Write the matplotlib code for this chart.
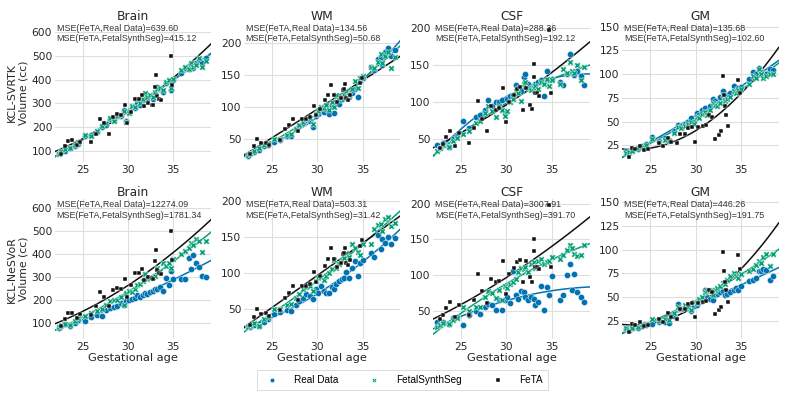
import numpy as np
import matplotlib
matplotlib.use("Agg")
import matplotlib.pyplot as plt

# gestational ages
kcl_age = [22.3, 22.6, 23.0, 23.6, 24.1, 24.5, 25.2, 25.9, 26.6, 27.1, 27.6, 28.0, 28.4, 28.8, 29.2,
           29.5, 29.8, 30.1, 30.4, 30.7, 31.0, 31.3, 31.6, 31.9, 32.1, 32.4, 32.7, 33.0, 33.2, 33.5,
           33.8, 34.2, 34.5, 34.7, 35.0, 35.9, 36.3, 36.7, 37.0, 37.2, 37.5, 37.8, 38.2, 38.6]
feta_age = [22.6, 23.0, 23.3, 23.8, 24.3, 24.7, 25.9, 26.4, 26.9, 27.3, 27.9, 28.3, 28.8, 29.2, 29.6,
            29.9, 30.3, 30.8, 31.2, 31.5, 31.8, 32.2, 32.6, 32.8, 33.0, 33.1, 33.2, 33.4, 33.6, 34.7, 34.9]

# FeTA volumes (same in both rows)
feta_brain = [86, 118, 142, 145, 123, 137, 135, 172, 235, 215, 172, 243, 253, 250, 291, 215, 264, 318,
              320, 334, 288, 300, 295, 292, 370, 419, 330, 317, 315, 500, 376]
feta_wm = [27, 38, 49, 43, 44, 40, 48, 65, 72, 81, 62, 81, 81, 84, 101, 87, 96, 110, 119, 134, 119,
           108, 114, 126, 127, 135, 114, 111, 118, 137, 145]
feta_csf = [39, 44, 54, 62, 41, 59, 45, 66, 102, 78, 61, 95, 90, 92, 120, 74, 101, 110, 118, 121, 90,
            120, 97, 91, 134, 151, 112, 112, 108, 198, 112]
feta_gm = [13, 22, 21, 24, 20, 21, 27, 24, 33, 29, 27, 37, 37, 43, 44, 29, 44, 45, 46, 57, 55, 32, 36,
           40, 98, 78, 66, 57, 45, 94, 80]

# KCL-SVRTK
svr_brain_real = [88, 95, 100, 112, 118, 130, 160, 165, 180, 200, 210, 235, 230, 250, 245, 270, 225, 265,
                  285, 280, 300, 295, 315, 340, 320, 330, 320, 345, 370, 360, 350, 385, 395, 355, 400,
                  430, 450, 445, 460, 450, 470, 485, 470, 490]
svr_brain_synth = [85, 98, 105, 110, 122, 135, 168, 160, 185, 205, 215, 240, 225, 245, 250, 268, 220, 260,
                   290, 285, 318, 300, 320, 345, 325, 335, 328, 350, 362, 365, 355, 390, 400, 365, 405,
                   440, 455, 445, 470, 455, 460, 490, 455, 480]
svr_wm_real = [23, 26, 30, 33, 38, 40, 45, 48, 55, 55, 65, 70, 75, 80, 78, 68, 85, 88, 95, 92, 97, 88,
               103, 90, 107, 105, 112, 118, 120, 115, 122, 128, 116, 140, 145, 162, 158, 175, 178, 165,
               185, 192, 180, 188]
svr_wm_synth = [24, 28, 31, 35, 40, 43, 50, 50, 56, 58, 66, 72, 76, 81, 82, 73, 88, 93, 100, 98, 103,
                95, 108, 100, 118, 110, 115, 120, 125, 118, 128, 140, 130, 145, 148, 162, 160, 170, 182,
                168, 180, 185, 160, 178]
svr_csf_real = [42, 38, 45, 40, 50, 55, 75, 65, 80, 83, 90, 103, 95, 100, 100, 103, 86, 105, 108, 110,
                123, 119, 115, 134, 138, 125, 120, 117, 125, 128, 130, 109, 142, 130, 132, 128, 123,
                138, 165, 140, 137, 142, 135, 124]
svr_csf_synth = [35, 38, 42, 40, 48, 52, 58, 62, 72, 75, 85, 95, 88, 80, 95, 90, 82, 88, 100, 105, 115,
                 112, 102, 125, 128, 120, 116, 120, 122, 118, 128, 125, 132, 122, 130, 125, 145, 140,
                 155, 142, 140, 150, 130, 148]
svr_gm_real = [19, 17, 20, 21, 24, 26, 34, 30, 33, 31, 40, 47, 45, 48, 50, 54, 50, 59, 57, 62, 64, 60,
               66, 74, 72, 69, 76, 82, 75, 78, 80, 88, 83, 85, 86, 95, 102, 100, 106, 102, 98, 100,
               105, 104]
svr_gm_synth = [17, 18, 19, 22, 23, 25, 32, 29, 31, 30, 38, 44, 43, 45, 48, 50, 48, 55, 54, 58, 60, 57,
                62, 70, 68, 66, 70, 78, 72, 74, 76, 82, 80, 83, 84, 90, 98, 96, 105, 100, 96, 98, 100,
                100]

# KCL-NeSVoR
nes_brain_real = [78, 88, 95, 85, 100, 112, 107, 125, 135, 129, 155, 165, 170, 176, 185, 180, 195, 200,
                  205, 210, 224, 215, 220, 231, 228, 235, 240, 249, 246, 255, 239, 297, 264, 326, 290,
                  293, 293, 385, 335, 396, 363, 345, 305, 300]
nes_brain_synth = [80, 90, 95, 90, 110, 120, 132, 145, 150, 161, 180, 195, 200, 202, 215, 180, 230, 240,
                   235, 250, 264, 270, 283, 312, 290, 295, 300, 305, 341, 325, 363, 350, 360, 341, 380,
                   400, 414, 429, 451, 440, 465, 456, 410, 460]
nes_wm_real = [26, 24, 28, 26, 32, 35, 42, 45, 48, 47, 55, 60, 65, 70, 68, 63, 78, 72, 81, 75, 72, 72,
               80, 78, 84, 88, 91, 92, 101, 92, 107, 116, 95, 114, 118, 127, 122, 152, 133, 147, 141,
               150, 140, 148]
nes_wm_synth = [24, 27, 30, 26, 35, 38, 49, 50, 55, 56, 65, 70, 77, 80, 82, 75, 89, 92, 94, 90, 96, 100,
                105, 117, 107, 112, 117, 120, 128, 122, 140, 135, 129, 125, 140, 140, 161, 166, 168,
                158, 175, 178, 165, 169]
nes_csf_real = [34, 30, 35, 32, 40, 42, 31, 45, 50, 46, 55, 60, 58, 51, 66, 51, 65, 70, 61, 106, 72, 67,
                78, 77, 70, 65, 69, 67, 58, 63, 85, 52, 84, 72, 99, 65, 72, 100, 116, 79, 102, 77, 70,
                63]
nes_csf_synth = [28, 30, 33, 32, 38, 40, 55, 50, 55, 55, 70, 78, 75, 68, 80, 65, 85, 82, 88, 90, 95, 105,
                 110, 108, 112, 105, 115, 118, 110, 120, 122, 115, 118, 120, 125, 122, 128, 135, 142,
                 138, 130, 127, 128, 142]
nes_gm_real = [16, 15, 18, 17, 20, 21, 22, 24, 24, 23, 30, 43, 38, 40, 39, 35, 41, 42, 45, 46, 58, 50,
               48, 47, 52, 53, 55, 56, 52, 53, 55, 58, 60, 58, 62, 67, 68, 70, 78, 77, 80, 79, 68, 72]
nes_gm_synth = [17, 15, 18, 19, 22, 22, 27, 25, 27, 26, 33, 40, 38, 42, 40, 36, 45, 44, 48, 50, 55, 56,
                58, 52, 57, 60, 62, 65, 64, 68, 72, 75, 72, 70, 74, 78, 80, 84, 88, 86, 92, 95, 83, 95]

tissues = ["Brain", "WM", "CSF", "GM"]
row_names = ["KCL-SVRTK", "KCL-NeSVoR"]
real = [[svr_brain_real, svr_wm_real, svr_csf_real, svr_gm_real],
        [nes_brain_real, nes_wm_real, nes_csf_real, nes_gm_real]]
synth = [[svr_brain_synth, svr_wm_synth, svr_csf_synth, svr_gm_synth],
         [nes_brain_synth, nes_wm_synth, nes_csf_synth, nes_gm_synth]]
feta = [feta_brain, feta_wm, feta_csf, feta_gm]
mse_real = [["639.60", "134.56", "288.36", "135.68"], ["12274.09", "503.31", "3007.91", "446.26"]]
mse_synth = [["415.12", "50.68", "192.12", "102.60"], ["1781.34", "31.42", "391.70", "191.75"]]
ylims = [[(50, 640), (13, 231), (19, 207), (7, 154)],
         [(30, 640), (8, 202), (11, 206), (6, 153)]]
yticks = [[100, 200, 300, 400, 500, 600], [50, 100, 150, 200], [50, 100, 150, 200], [25, 50, 75, 100, 125, 150]]

blue = "#0173b2"
green = "#029e73"
black = "#111111"
xlo, xhi = 21.9, 39.2
xx = np.linspace(xlo, xhi, 100)

fig, axes = plt.subplots(2, 4, figsize=(7.89, 3.95), dpi=100)
plt.subplots_adjust(left=0.0697, right=0.987, bottom=0.142, top=0.942, wspace=0.21, hspace=0.264)

for r in range(2):
    for c in range(4):
        ax = axes[r, c]
        ka = np.array(kcl_age)
        fa = np.array(feta_age)
        for x, y, col in [(ka, real[r][c], blue), (ka, synth[r][c], green), (fa, feta[c], black)]:
            p = np.polyfit(x, y, 2)
            ax.plot(xx, np.polyval(p, xx), color=col, lw=1.1, zorder=2)
        ax.scatter(ka, real[r][c], s=20, marker="o", color=blue, edgecolors="white", linewidths=0.3,
                   zorder=3, label="Real Data")
        ax.scatter(ka, synth[r][c], s=20, marker="X", color=green, edgecolors="white", linewidths=0.3,
                   zorder=3, label="FetalSynthSeg")
        ax.scatter(fa, feta[c], s=11, marker="s", color=black, edgecolors="white", linewidths=0.3,
                   zorder=3, label="FeTA")
        ax.set_xlim(xlo, xhi)
        ax.set_ylim(*ylims[r][c])
        ax.set_xticks([25, 30, 35])
        ax.set_yticks(yticks[c])
        ax.grid(True, color="#dedede", lw=0.8, zorder=0)
        ax.set_axisbelow(True)
        for s in ax.spines.values():
            s.set_visible(False)
        ax.tick_params(length=0, labelsize=7.7, colors="#262626", pad=2)
        ax.set_title(tissues[c], fontsize=8.8, color="#262626", pad=2)
        ax.text(0.01, 0.995, "MSE(FeTA,Real Data)=" + mse_real[r][c] +
                "\nMSE(FeTA,FetalSynthSeg)=" + mse_synth[r][c],
                transform=ax.transAxes, ha="left", va="top", fontsize=6.4,
                family="Liberation Sans", color="#333333", linespacing=1.25)
        if c == 0:
            ax.set_ylabel(row_names[r] + "\nVolume (cc)", fontsize=7.8, color="#262626", labelpad=2)
        if r == 1:
            ax.set_xlabel("Gestational age", fontsize=8.2, color="#262626", labelpad=1)

h, l = axes[0, 0].get_legend_handles_labels()
leg = fig.legend(h, l, loc="center", bbox_to_anchor=(0.51, 0.038), ncol=3,
                 prop={"family": "Liberation Sans", "size": 7.2}, markerscale=0.7,
                 frameon=True, fancybox=False, edgecolor="#cccccc", columnspacing=2.6,
                 handletextpad=1.2, borderpad=0.5)
leg.get_frame().set_linewidth(0.6)

fig.savefig("out.png", dpi=100)
